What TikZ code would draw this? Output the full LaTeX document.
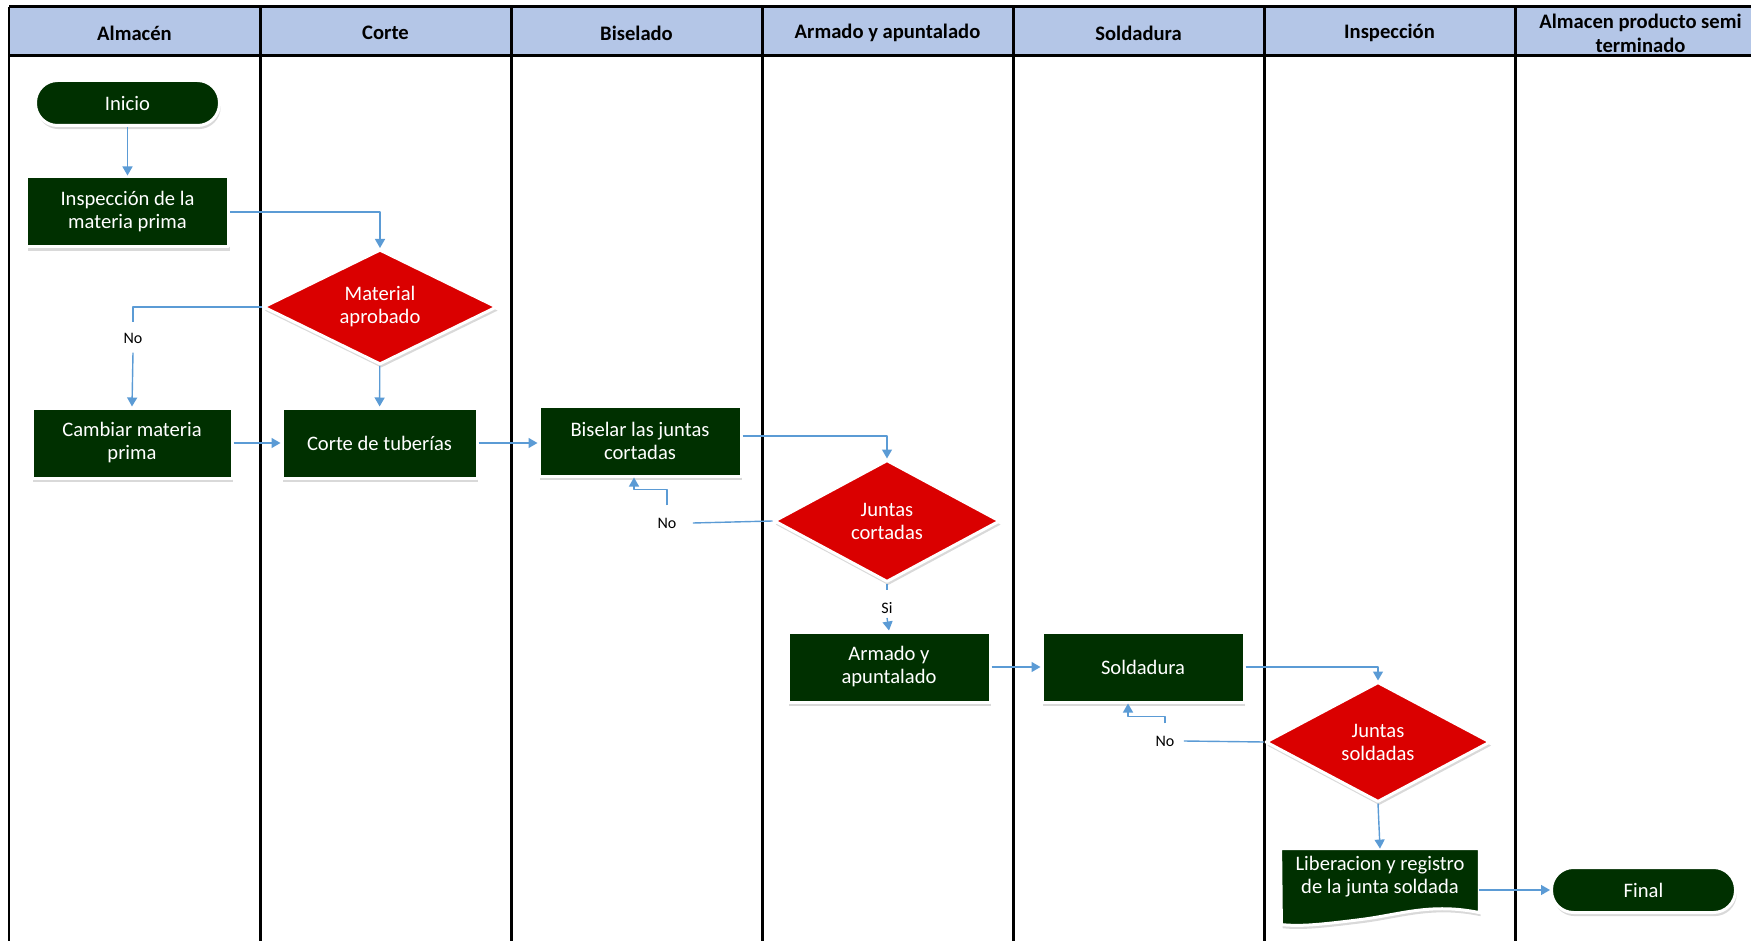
\documentclass[tikz,border=0pt]{standalone}
\usepackage{fontspec}
\setmainfont{Carlito}
\usetikzlibrary{shapes.geometric,shadows,arrows.meta,backgrounds}
\definecolor{headblue}{RGB}{180,198,231}
\definecolor{procgreen}{RGB}{0,48,0}
\definecolor{decred}{RGB}{218,0,0}
\definecolor{linkblue}{RGB}{91,155,213}
\begin{document}
\begin{tikzpicture}[x=0.5pt, y=-0.5pt, line join=round, >={Triangle[length=4.5pt,width=5pt]},
  lane/.style={line width=1.5pt},
  lanehead/.style={font=\bfseries\fontsize{10.3}{12}\selectfont, align=flush center, text width=120pt},
  proc/.style={rectangle, fill=procgreen, draw=white, line width=1.5pt, text=white, align=center,
    font=\fontsize{10.3}{11.5}\selectfont, minimum width=101pt, minimum height=35pt, inner sep=2pt,
    drop shadow={opacity=0.3, shadow xshift=0.6pt, shadow yshift=-1.8pt}},
  term/.style={proc, rounded corners=11pt, minimum width=92pt, minimum height=22.5pt},
  decis/.style={proc, diamond, aspect=2, inner sep=1pt, fill=decred, minimum width=113pt, minimum height=61pt},
  docu/.style={text=white, align=center, font=\fontsize{10.3}{11.5}\selectfont, minimum width=99pt, minimum height=28pt, inner sep=2pt},
  lbl/.style={font=\fontsize{8}{9}\selectfont, inner sep=2pt},
  conn/.style={draw=linkblue, line width=0.7pt}]
\useasboundingbox (0,0) rectangle (1751,941);
\def\xo{9} \def\laneW{251} % carriles
% carriles y encabezados
\fill[headblue] (\xo,7) rectangle (1766,56);
\draw[lane] (\xo,7) -- (1766,7) (\xo,56) -- (1766,56);
\draw[line width=1pt] (\xo,7) -- (\xo,941);
\foreach \i in {1,...,6} \draw[lane] ({\xo+\i*\laneW},7) -- ({\xo+\i*\laneW},941);
\foreach \name [count=\i from 0] in {Almacén, Corte, Biselado, Armado y apuntalado, Soldadura, Inspección, {Almacen producto semi\\terminado}}
  \node[lanehead] (lane\i) at ({\xo+(\i+0.5)*\laneW},33) {\name};
% pasos
\node[term] (ini) at (127.5,103) {Inicio};
\node[proc] (insp) at (127.5,212) {Inspección de la\\materia prima};
\node[decis, minimum width=117pt, minimum height=57.5pt] (mat) at (380,307) {Material\\aprobado};
\node[proc, minimum width=100pt] (cam) at (132,443) {Cambiar materia\\prima};
\node[proc, minimum width=97.5pt] (cor) at (379.5,443) {Corte de tuberías};
\node[proc] (bis) at (640,441) {Biselar las juntas\\cortadas};
\node[decis] (jc) at (887,521) {Juntas\\cortadas};
\node[proc] (arm) at (889,667) {Armado y\\apuntalado};
\node[proc] (sol) at (1143,667) {Soldadura};
\node[decis, minimum width=112.5pt, minimum height=60pt] (js) at (1378,742) {Juntas\\soldadas};
\node[docu] (lib) at (1380,877) {Liberacion y registro\\de la junta soldada};
\node[term] (fin) at (1643.5,890) {Final};
\begin{scope}[on background layer]
\path[fill=procgreen, draw=white, line width=1.5pt, drop shadow={opacity=0.3, shadow xshift=0.6pt, shadow yshift=-1.8pt}]
  (lib.north west) -- (lib.north east) -- ++(0,64) .. controls +(-49,-10) and +(40,-5) .. ++(-119,7)
  .. controls +(-40,5) and +(19,2) .. ++(-79,5) -- cycle;
\end{scope}
% etiquetas
\node[lbl] (no1) at (133,338) {No};
\node[lbl] (no2) at (667,523) {No};
\node[lbl] (si) at (887,608) {Si};
\node[lbl] (no3) at (1165,741) {No};
% conectores
\draw[conn,->] (ini) -- (insp);
\draw[conn,->] (insp.east) -| (mat.north);
\draw[conn] (mat.west) -| ([yshift=3pt]no1.north);
\draw[conn,->] ([yshift=-2.5pt]no1.south) -- (cam.north);
\draw[conn,->] (mat) -- (cor);
\draw[conn,->] (cam) -- (cor);
\draw[conn,->] (cor.east) -- (cor.east -| bis.west);
\draw[conn,->] ([yshift=2.5pt]bis.east) -| (jc.north);
\draw[conn] (jc.west) -- ([xshift=6pt]no2.east);
\draw[conn,->] ([yshift=4pt]no2.north) -- ++(0,-16) -| ([xshift=-3pt]bis.south);
\draw[conn] (jc.south) -- ([yshift=4pt]si.north);
\draw[conn,->] (si.south) -- (arm.north);
\draw[conn,->] (arm.east) -- (arm.east -| sol.west);
\draw[conn,->] (sol.east) -| (js.north);
\draw[conn] (js.west) -- ([xshift=2.5pt]no3.east);
\draw[conn,->] ([yshift=4pt]no3.north) -- ++(0,-7) -| ([xshift=-7.5pt]sol.south);
\draw[conn,->] (js.south) -- (lib.north);
\draw[conn,->] (lib.east |- fin.west) -- (fin.west);
\end{tikzpicture}
\end{document}
